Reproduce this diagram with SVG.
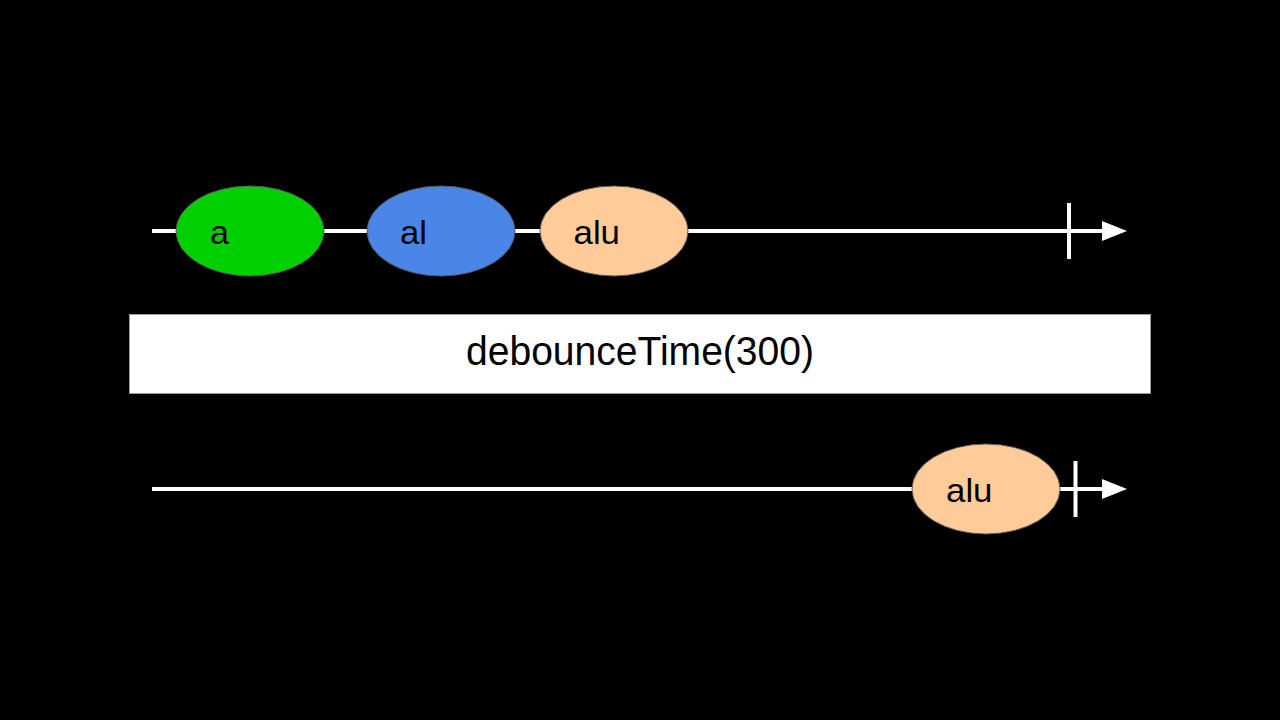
<svg xmlns="http://www.w3.org/2000/svg" width="1280" height="720" viewBox="0 0 1280 720">
<style>
.line{stroke:#ffffff;stroke-width:4;fill:none}
.head{fill:#ffffff;stroke:none}
.ev{stroke:#595959;stroke-width:1}
.lbl{font-family:"Liberation Sans",Arial,sans-serif;font-size:33px;fill:#000000}
</style>
<rect x="0" y="0" width="1280" height="720" fill="#000000"/>
<g id="connectors">
<line class="line" x1="152" y1="231" x2="1104" y2="231"/>
<polygon class="head" points="1102,221 1127,231 1102,241"/>
<line class="line" x1="1069" y1="203" x2="1069" y2="259"/>
<line class="line" x1="152" y1="489" x2="1104" y2="489"/>
<polygon class="head" points="1102,479 1127,489 1102,499"/>
<line class="line" x1="1075.5" y1="461" x2="1075.5" y2="517"/>
</g>
<g id="node-a">
<ellipse class="ev" cx="250" cy="231" rx="74" ry="45" fill="#00d000"/>
<text class="lbl" x="210" y="243.5" textLength="19" lengthAdjust="spacingAndGlyphs">a</text>
</g>
<g id="node-al">
<ellipse class="ev" cx="441" cy="231" rx="74" ry="45" fill="#4a86e8"/>
<text class="lbl" x="400" y="243.5" textLength="27" lengthAdjust="spacingAndGlyphs">al</text>
</g>
<g id="node-alu">
<ellipse class="ev" cx="614" cy="231" rx="74" ry="45" fill="#ffcc99"/>
<text class="lbl" x="573.5" y="243.5" textLength="46.5" lengthAdjust="spacingAndGlyphs">alu</text>
</g>
<g id="operator">
<rect x="129.5" y="314.5" width="1021" height="79" fill="#ffffff" stroke="#999999" stroke-width="1"/>
<text x="640" y="365" text-anchor="middle" font-family="'Liberation Sans',Arial,sans-serif" font-size="40" textLength="348" lengthAdjust="spacingAndGlyphs" fill="#000000">debounceTime(300)</text>
</g>
<g id="node-alu-out">
<ellipse class="ev" cx="986" cy="489" rx="74" ry="45" fill="#ffcc99"/>
<text class="lbl" x="946" y="501.5" textLength="46.5" lengthAdjust="spacingAndGlyphs">alu</text>
</g>
</svg>
